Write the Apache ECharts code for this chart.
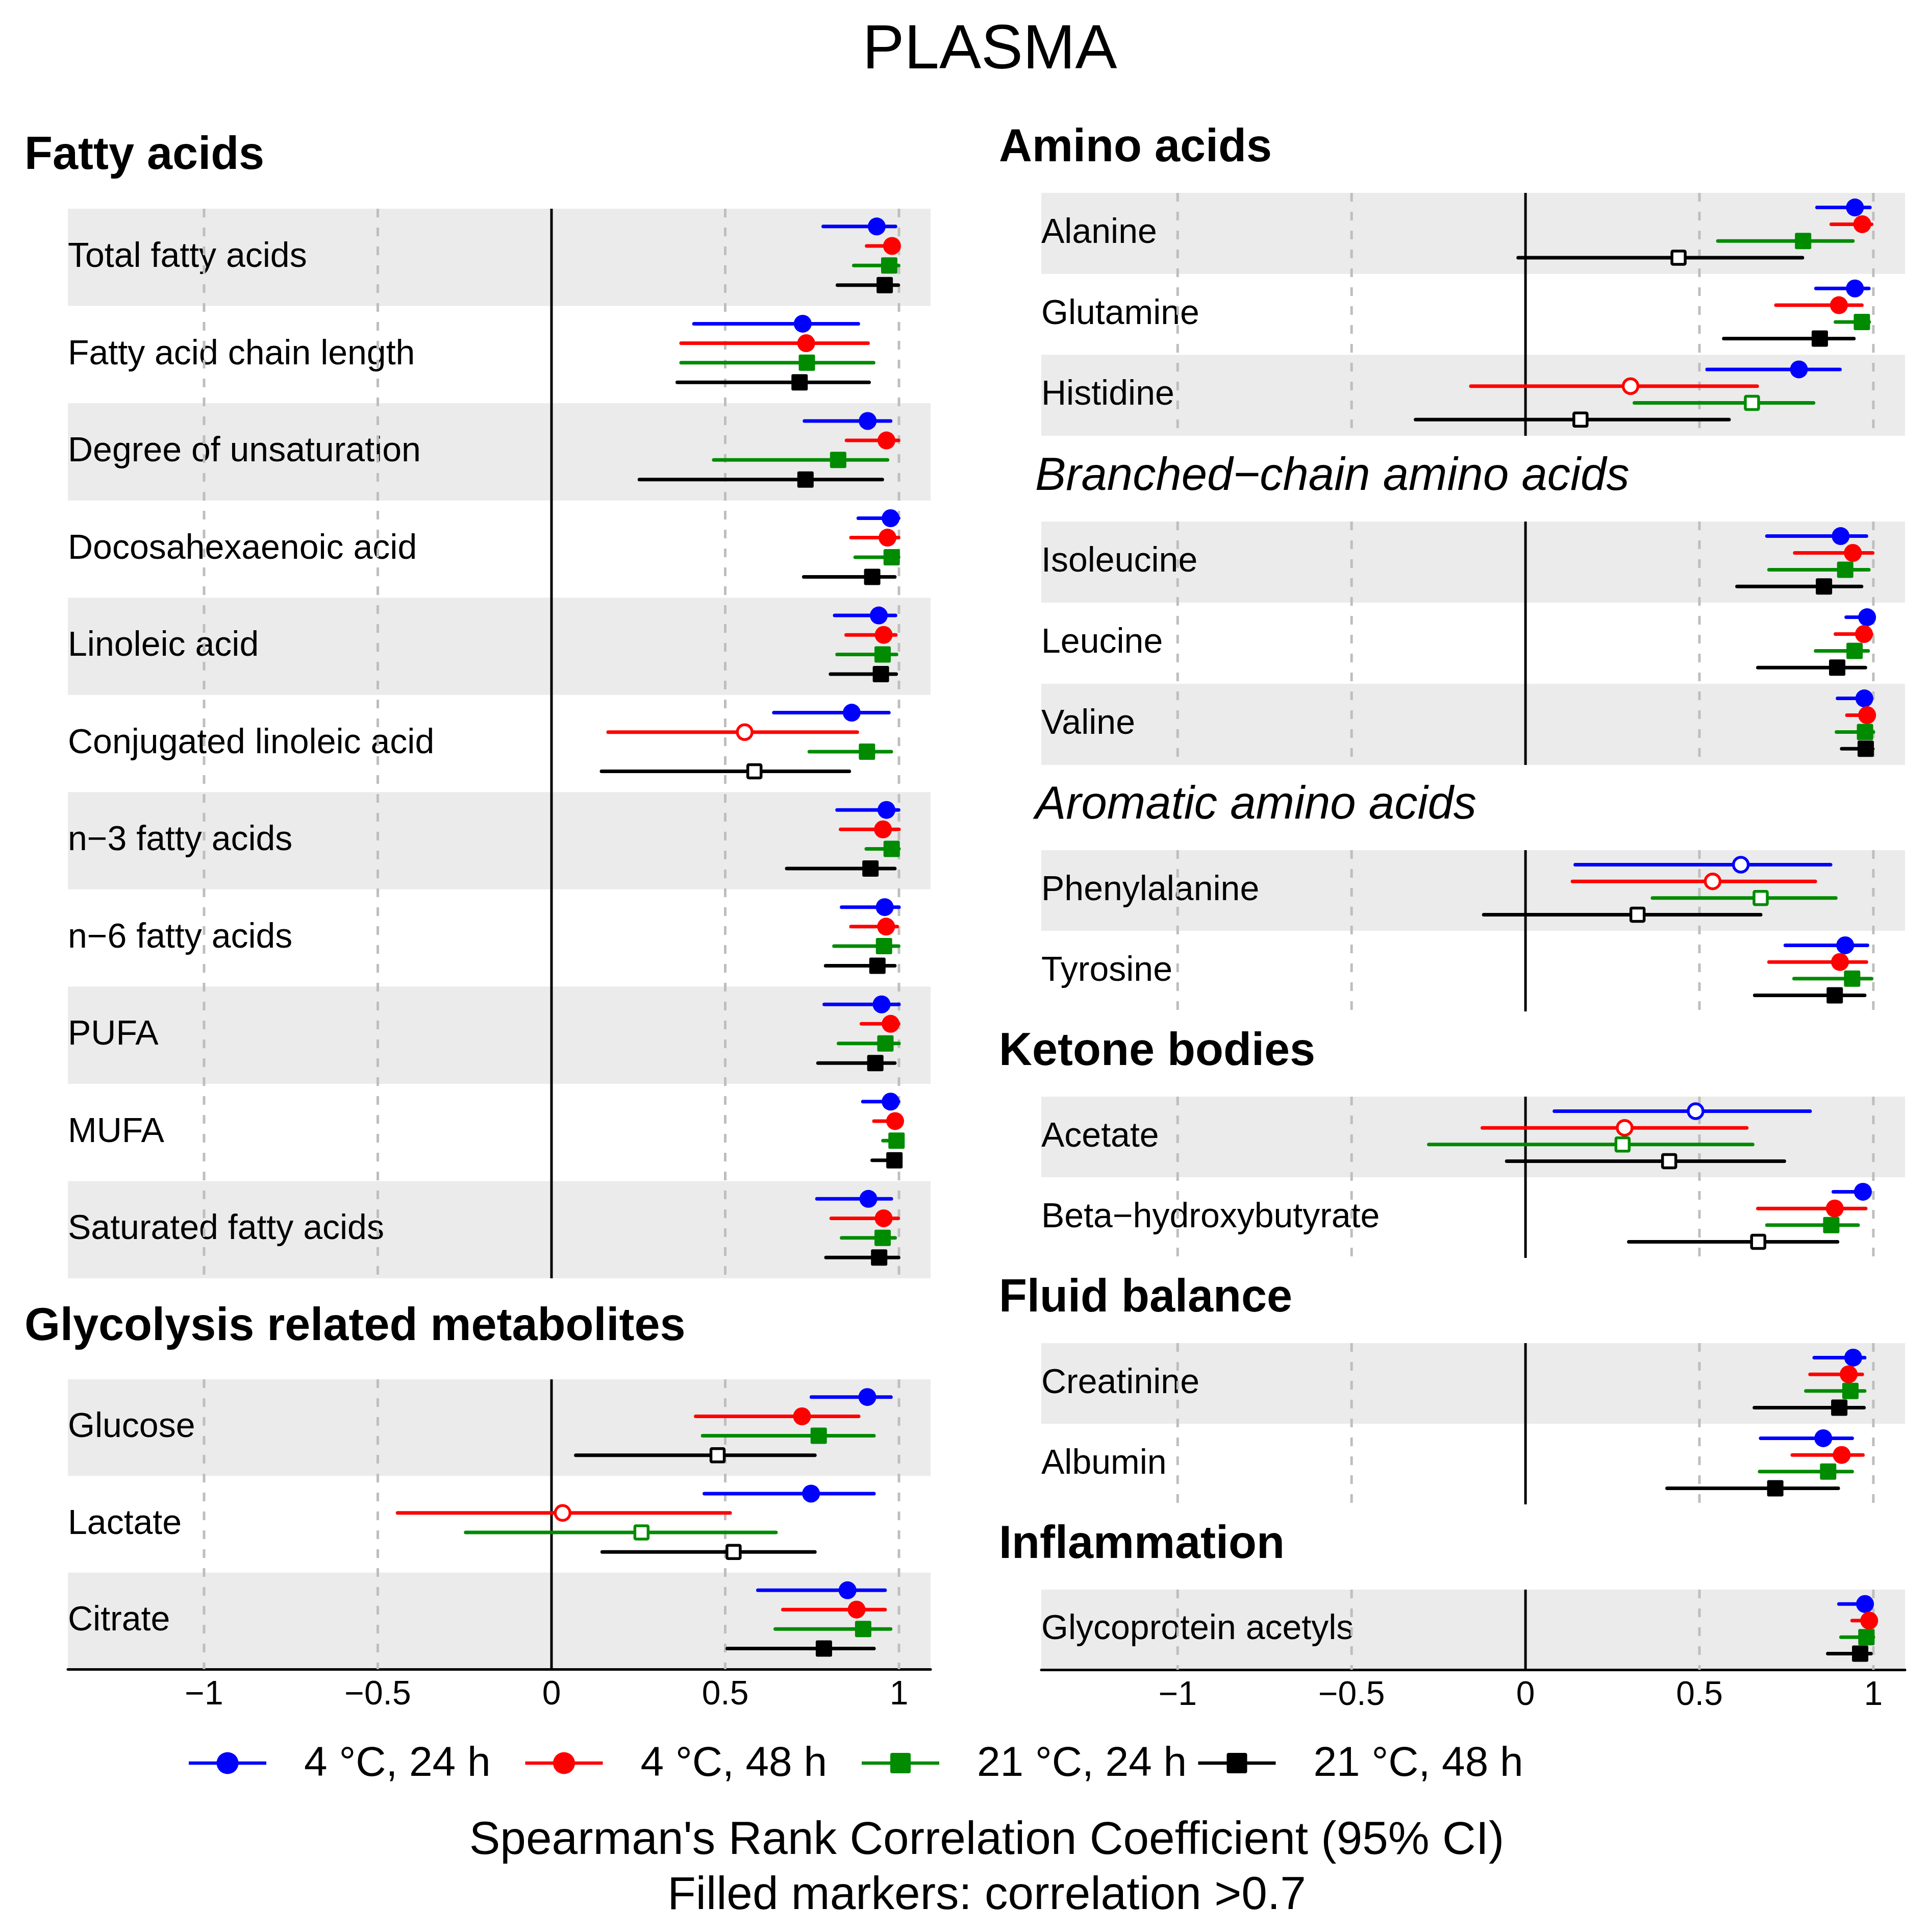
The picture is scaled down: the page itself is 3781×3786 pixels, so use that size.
<!DOCTYPE html>
<html>
<head>
<meta charset="utf-8">
<title>PLASMA</title>
<script src="https://cdn.jsdelivr.net/npm/echarts@6.0.0/dist/echarts.min.js"></script>
<style>
html, body { margin: 0; padding: 0; background: #fff; }
#chart { width: 3781px; height: 3786px; }
</style>
</head>
<body>
<div id="chart"></div>
<script>
// conditions, in drawing order inside each row
var conditions = ['4 \u00B0C, 24 h', '4 \u00B0C, 48 h', '21 \u00B0C, 24 h', '21 \u00B0C, 48 h'];
var xTicks = [-1, -0.5, 0, 0.5, 1];
var threshold = 0.7;   // filled marker when correlation > 0.7

// each row: [lo, rho, hi] for 4C 24h, 4C 48h, 21C 24h, 21C 48h
var fattyNames = ['Total fatty acids', 'Fatty acid chain length', 'Degree of unsaturation',
  'Docosahexaenoic acid', 'Linoleic acid', 'Conjugated linoleic acid', 'n\u22123 fatty acids',
  'n\u22126 fatty acids', 'PUFA', 'MUFA', 'Saturated fatty acids'];
var fattyValues = [
  [[0.782, 0.936, 0.990], [0.907, 0.980, 0.995], [0.870, 0.972, 0.999], [0.823, 0.959, 0.998]],
  [[0.410, 0.723, 0.883], [0.373, 0.733, 0.911], [0.373, 0.735, 0.927], [0.362, 0.714, 0.914]],
  [[0.728, 0.910, 0.976], [0.849, 0.964, 0.999], [0.467, 0.825, 0.967], [0.253, 0.731, 0.952]],
  [[0.883, 0.976, 0.999], [0.862, 0.967, 0.999], [0.874, 0.979, 0.999], [0.726, 0.923, 0.988]],
  [[0.815, 0.942, 0.990], [0.848, 0.956, 0.991], [0.822, 0.953, 0.993], [0.803, 0.948, 0.992]],
  [[0.640, 0.864, 0.971], [0.163, 0.556, 0.880], [0.742, 0.908, 0.978], [0.144, 0.584, 0.857]],
  [[0.822, 0.964, 0.999], [0.832, 0.954, 1.000], [0.906, 0.979, 1.000], [0.677, 0.918, 0.988]],
  [[0.835, 0.959, 1.000], [0.862, 0.963, 0.995], [0.813, 0.957, 0.999], [0.789, 0.938, 0.988]],
  [[0.785, 0.950, 1.000], [0.892, 0.976, 0.999], [0.826, 0.961, 1.000], [0.767, 0.932, 0.988]],
  [[0.896, 0.976, 0.999], [0.928, 0.989, 1.000], [0.954, 0.993, 1.000], [0.923, 0.987, 1.000]],
  [[0.764, 0.912, 0.978], [0.805, 0.956, 0.998], [0.835, 0.953, 0.989], [0.790, 0.943, 0.999]]
];

var glycoNames = ['Glucose', 'Lactate', 'Citrate'];
var glycoValues = [
  [[0.748, 0.909, 0.977], [0.415, 0.721, 0.884], [0.435, 0.769, 0.928], [0.070, 0.478, 0.758]],
  [[0.440, 0.747, 0.928], [-0.443, 0.032, 0.514], [-0.247, 0.259, 0.646], [0.146, 0.524, 0.758]],
  [[0.594, 0.852, 0.960], [0.666, 0.878, 0.960], [0.644, 0.897, 0.976], [0.506, 0.784, 0.928]]
];

var aminoNames = ['Alanine', 'Glutamine', 'Histidine'];
var aminoValues = [
  [[0.838, 0.947, 0.990], [0.879, 0.968, 0.995], [0.553, 0.798, 0.941], [-0.021, 0.440, 0.796]],
  [[0.835, 0.947, 0.987], [0.720, 0.901, 0.967], [0.891, 0.967, 0.988], [0.570, 0.846, 0.944]],
  [[0.522, 0.786, 0.904], [-0.157, 0.302, 0.666], [0.313, 0.651, 0.828], [-0.316, 0.158, 0.585]]
];

var bcaaNames = ['Isoleucine', 'Leucine', 'Valine'];
var bcaaValues = [
  [[0.694, 0.906, 0.980], [0.774, 0.941, 0.998], [0.700, 0.919, 0.987], [0.608, 0.858, 0.966]],
  [[0.922, 0.982, 1.000], [0.891, 0.973, 0.995], [0.834, 0.946, 0.985], [0.668, 0.896, 0.977]],
  [[0.897, 0.974, 0.995], [0.924, 0.982, 1.000], [0.894, 0.976, 1.000], [0.909, 0.978, 0.998]]
];

var aromaticNames = ['Phenylalanine', 'Tyrosine'];
var aromaticValues = [
  [[0.143, 0.619, 0.877], [0.135, 0.538, 0.833], [0.365, 0.676, 0.892], [-0.120, 0.322, 0.676]],
  [[0.747, 0.919, 0.983], [0.700, 0.904, 0.980], [0.772, 0.939, 0.995], [0.659, 0.889, 0.975]]
];

var ketoneNames = ['Acetate', 'Beta\u2212hydroxybutyrate'];
var ketoneValues = [
  [[0.083, 0.489, 0.818], [-0.124, 0.285, 0.636], [-0.278, 0.279, 0.653], [-0.054, 0.413, 0.744]],
  [[0.885, 0.970, 0.990], [0.668, 0.889, 0.978], [0.694, 0.879, 0.956], [0.297, 0.669, 0.897]]
];

var fluidNames = ['Creatinine', 'Albumin'];
var fluidValues = [
  [[0.830, 0.942, 0.975], [0.818, 0.929, 0.968], [0.806, 0.934, 0.975], [0.658, 0.902, 0.973]],
  [[0.676, 0.856, 0.939], [0.767, 0.909, 0.970], [0.673, 0.870, 0.939], [0.407, 0.718, 0.899]]
];

var inflamNames = ['Glycoprotein acetyls'];
var inflamValues = [
  [[0.901, 0.976, 0.995], [0.939, 0.988, 1.000], [0.907, 0.980, 1.000], [0.869, 0.962, 0.993]]
];

// ---- styles & layout ----
var FONT = '"Liberation Sans", Arial, Helvetica, sans-serif';
var colors = ['#0000FF', '#FF0000', '#008B00', '#000000'];
var shapes = ['circle', 'circle', 'rect', 'rect'];
var X_MIN = -1.392, X_MAX = 1.091;
var LEFT_OFF = [0.183, 0.383, 0.584, 0.786];
var RIGHT_OFF = [0.180, 0.387, 0.594, 0.800];

var panels = [
  {names: fattyNames, values: fattyValues, left: 133, top: 409, width: 1691, height: 2096, off: LEFT_OFF, axis: false},
  {names: glycoNames, values: glycoValues, left: 133, top: 2703, width: 1691, height: 568, off: LEFT_OFF, axis: true},
  {names: aminoNames, values: aminoValues, left: 2041, top: 378, width: 1693, height: 476, off: RIGHT_OFF, axis: false},
  {names: bcaaNames, values: bcaaValues, left: 2041, top: 1022, width: 1693, height: 477, off: RIGHT_OFF, axis: false},
  {names: aromaticNames, values: aromaticValues, left: 2041, top: 1666, width: 1693, height: 316, off: RIGHT_OFF, axis: false},
  {names: ketoneNames, values: ketoneValues, left: 2041, top: 2149, width: 1693, height: 316, off: RIGHT_OFF, axis: false},
  {names: fluidNames, values: fluidValues, left: 2041, top: 2632, width: 1693, height: 316, off: RIGHT_OFF, axis: false},
  {names: inflamNames, values: inflamValues, left: 2041, top: 3115, width: 1693, height: 157, off: RIGHT_OFF, axis: true}
];

// y = centre of the text line
var headers = [
  {text: 'Fatty acids', x: 48, y: 306, italic: false},
  {text: 'Glycolysis related metabolites', x: 48, y: 2601, italic: false},
  {text: 'Amino acids', x: 1958, y: 291, italic: false},
  {text: 'Branched\u2212chain amino acids', x: 2029, y: 935, italic: true},
  {text: 'Aromatic amino acids', x: 2029, y: 1579, italic: true},
  {text: 'Ketone bodies', x: 1958, y: 2062, italic: false},
  {text: 'Fluid balance', x: 1958, y: 2545, italic: false},
  {text: 'Inflammation', x: 1958, y: 3028, italic: false}
];

function renderGridLine(params, api) {
  var v = api.value(0);
  var x = api.coord([v, 0])[0];
  var cs = params.coordSys;
  var style = v === 0
    ? {stroke: '#000', lineWidth: 5}
    : {stroke: '#BEBEBE', lineWidth: 5, lineDash: [17, 20]};
  return {type: 'line', shape: {x1: x, y1: cs.y, x2: x, y2: cs.y + cs.height}, style: style};
}

function makeCI(k, offsets) {
  return function (params, api) {
    var rho = api.value(0), row = api.value(1), lo = api.value(2), hi = api.value(3);
    var band = api.size([0, 1])[1];
    var p = api.coord([rho, row]);
    var y = p[1] + (offsets[k] - 0.5) * band;
    var xl = api.coord([lo, row])[0], xh = api.coord([hi, row])[0];
    var filled = rho > threshold;
    var col = colors[k];
    var kids = [{
      type: 'line', shape: {x1: xl, y1: y, x2: xh, y2: y},
      style: {stroke: col, lineWidth: 7, lineCap: 'round'}
    }];
    if (shapes[k] === 'circle') {
      kids.push(filled
        ? {type: 'circle', shape: {cx: p[0], cy: y, r: 17.5}, style: {fill: col}}
        : {type: 'circle', shape: {cx: p[0], cy: y, r: 14.5}, style: {fill: '#fff', stroke: col, lineWidth: 5.5}});
    } else {
      kids.push(filled
        ? {type: 'rect', shape: {x: p[0] - 16, y: y - 16, width: 32, height: 32, r: 3}, style: {fill: col}}
        : {type: 'rect', shape: {x: p[0] - 13, y: y - 13, width: 26, height: 26, r: 2}, style: {fill: '#fff', stroke: col, lineWidth: 5.5}});
    }
    return {type: 'group', children: kids};
  };
}

var grids = [], xAxes = [], yAxes = [], series = [];
panels.forEach(function (p, i) {
  grids.push({left: p.left, top: p.top, width: p.width, height: p.height});
  xAxes.push({
    type: 'value', gridIndex: i, min: X_MIN, max: X_MAX, show: p.axis, position: 'bottom',
    axisLine: {show: true, onZero: false, lineStyle: {color: '#000', width: 5}},
    axisTick: {show: false},
    splitLine: {show: false},
    axisLabel: {
      show: true, customValues: xTicks, margin: 18,
      fontSize: 66, color: '#000', fontFamily: FONT,
      formatter: function (v) { return String(v).replace('-', '\u2212'); }
    }
  });
  yAxes.push({
    type: 'category', gridIndex: i, data: p.names, inverse: true,
    axisLine: {show: false}, axisTick: {show: false}, splitLine: {show: false},
    splitArea: {show: true, interval: 0, areaStyle: {color: ['#EBEBEB', 'rgba(255,255,255,0)']}},
    axisLabel: {inside: true, interval: 0, margin: 0, fontSize: 68, color: '#000', fontFamily: FONT,
      padding: [5, 0, 0, 0]}
  });
  series.push({
    type: 'custom', xAxisIndex: i, yAxisIndex: i, z: 1, silent: true,
    data: xTicks.map(function (v) { return [v, 0]; }),
    renderItem: renderGridLine
  });
  for (var k = 0; k < 4; k++) {
    series.push({
      type: 'custom', name: conditions[k], xAxisIndex: i, yAxisIndex: i, z: 2,
      encode: {x: 0, y: 1},
      data: p.values.map(function (row, r) { return [row[k][1], r, row[k][0], row[k][2]]; }),
      renderItem: makeCI(k, p.off)
    });
  }
});

var graphics = [];
graphics.push({
  type: 'text', x: 1940, y: 100,
  style: {text: 'PLASMA', fontSize: 123, fontFamily: FONT, fill: '#000', align: 'center', verticalAlign: 'middle'}
});
headers.forEach(function (h) {
  graphics.push({
    type: 'text', x: h.x, y: h.y,
    style: {
      text: h.text, fontSize: h.italic ? 90.5 : 90, fontWeight: h.italic ? 'normal' : 'bold',
      fontStyle: h.italic ? 'italic' : 'normal', fontFamily: FONT, fill: '#000',
      align: 'left', verticalAlign: 'middle'
    }
  });
});
// legend
var legendY = 3455;
conditions.forEach(function (name, k) {
  var x0 = 370 + 659.5 * k;
  graphics.push({type: 'line', shape: {x1: x0, y1: legendY, x2: x0 + 152, y2: legendY},
    style: {stroke: colors[k], lineWidth: 6.5}});
  if (shapes[k] === 'circle') {
    graphics.push({type: 'circle', shape: {cx: x0 + 76, cy: legendY, r: 21.5}, style: {fill: colors[k]}});
  } else {
    graphics.push({type: 'rect', shape: {x: x0 + 56, y: legendY - 20, width: 40, height: 40, r: 4}, style: {fill: colors[k]}});
  }
  graphics.push({type: 'text', x: x0 + 226, y: legendY + 2,
    style: {text: name, fontSize: 82, fontFamily: FONT, fill: '#000', align: 'left', verticalAlign: 'middle'}});
});
graphics.push({type: 'text', x: 1934, y: 3608,
  style: {text: "Spearman's Rank Correlation Coefficient (95% CI)", fontSize: 91, fontFamily: FONT,
    fill: '#000', align: 'center', verticalAlign: 'middle'}});
graphics.push({type: 'text', x: 1934, y: 3716,
  style: {text: 'Filled markers: correlation >0.7', fontSize: 91, fontFamily: FONT,
    fill: '#000', align: 'center', verticalAlign: 'middle'}});

var myChart = echarts.init(document.getElementById('chart'));
myChart.setOption({
  backgroundColor: '#fff',
  animation: false,
  textStyle: {fontFamily: FONT},
  grid: grids,
  xAxis: xAxes,
  yAxis: yAxes,
  series: series,
  graphic: {elements: graphics}
});
</script>
</body>
</html>
